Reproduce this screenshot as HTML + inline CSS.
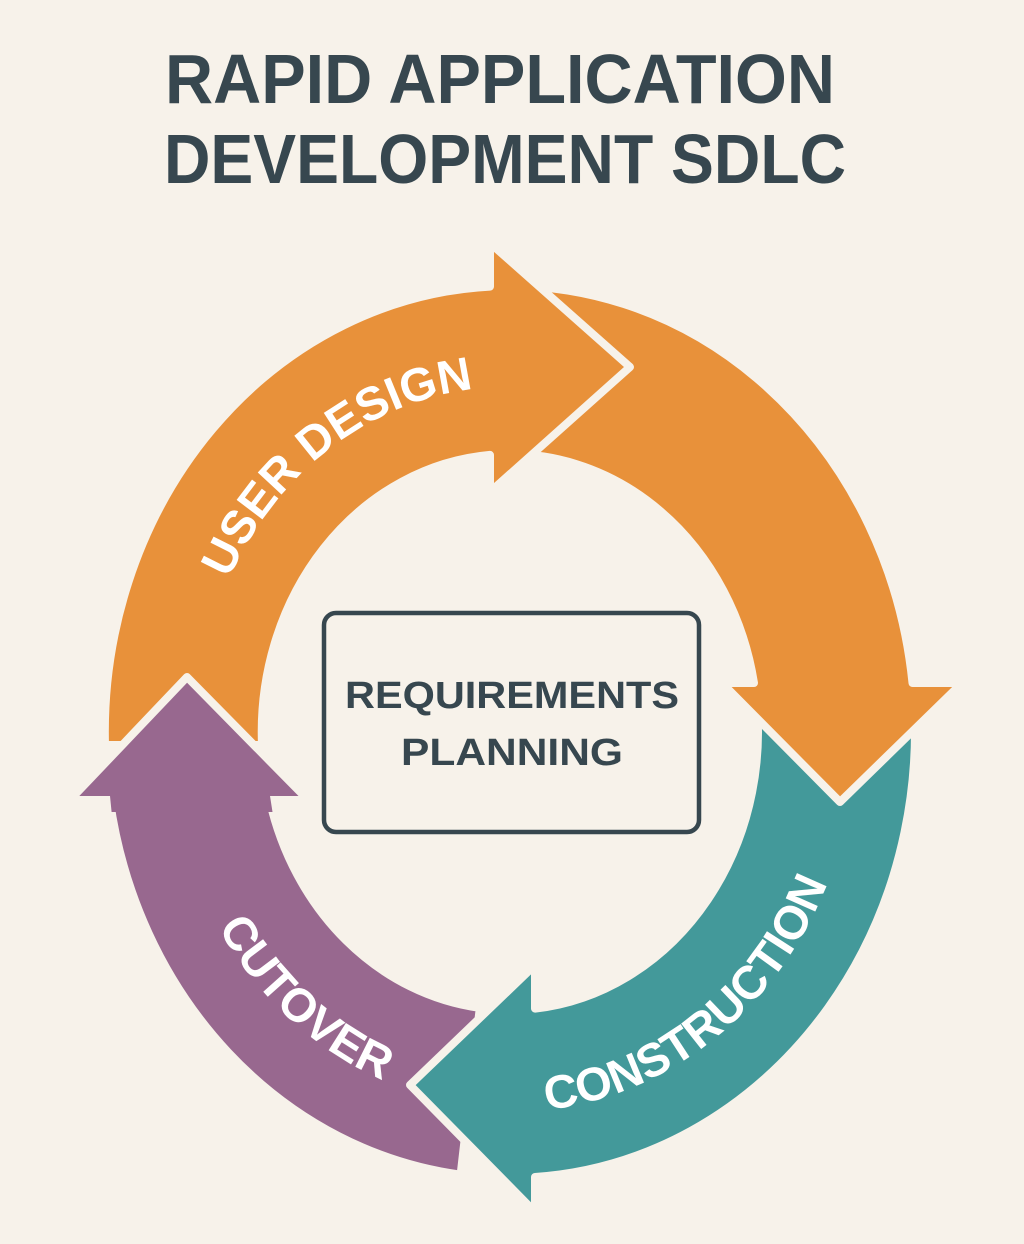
<!DOCTYPE html>
<html><head><meta charset="utf-8"><style>
html,body{margin:0;padding:0;background:#f7f2ea;}
svg{display:block;}
</style></head><body>
<svg width="1024" height="1244" viewBox="0 0 1024 1244" xmlns="http://www.w3.org/2000/svg">
<rect width="1024" height="1244" fill="#f7f2ea"/>
<g font-family="Liberation Sans, sans-serif" font-weight="bold" fill="#37474f" text-anchor="middle">
<text x="500" y="103" font-size="70" textLength="670" lengthAdjust="spacingAndGlyphs">RAPID APPLICATION</text>
<text x="505" y="183" font-size="70" textLength="682" lengthAdjust="spacingAndGlyphs">DEVELOPMENT SDLC</text>
</g>
<defs>
<path id="pUD" d="M 219.3 602.8 A 310 345 0 0 1 499.2 387.2"/>
<path id="pCU" d="M 200.0 890.5 A 342 375 0 0 0 421.5 1094.2"/>
<path id="pCO" d="M 497.9 1111.8 A 346 380 0 0 0 842.6 836.7"/>
</defs>
<g stroke="#f7f2ea" stroke-width="8" stroke-linejoin="round">
<path fill="#98688f" d="M460.6,1174.7 A405,446 0 0 1 109.8,800 L70,800 L187,677 L308,800 L269.6,800 A248,278 0 0 0 479.8,1007.9 Z"/>
<path fill="#43999a" d="M908.8,654.6 A405,446 0 0 1 535,1177 L535,1212 L410,1085 L535,965 L535,1008.6 A248,278 0 0 0 754.2,683.7 Z"/>
<path fill="#e8913a" d="M474.7,287.7 A405,446 0 0 1 912.5,683 L962,683 L840,802 L722,683 L754,683 A248,278 0 0 0 488.4,455 Z"/>
<path fill="#e8913a" d="M105,745 A405,446 0 0 1 490,286.6 L490,243 L630,367 L490,492 L490,454.9 A248,278 0 0 0 262,745 Z"/>
<path fill="#98688f" d="M70,800 L187,677 L308,800 Z"/>
</g>
<path fill="#98688f" d="M110,796 L270,796 L272.5,812 L111.6,812 Z"/>
<g font-family="Liberation Sans, sans-serif" font-weight="bold" fill="#ffffff" font-size="47">
<text><textPath href="#pUD" startOffset="50%" text-anchor="middle">USER DESIGN</textPath></text>
<text><textPath href="#pCU" startOffset="50%" text-anchor="middle">CUTOVER</textPath></text>
<text><textPath href="#pCO" startOffset="50%" text-anchor="middle">CONSTRUCTION</textPath></text>
</g>
<rect x="324" y="613" width="375" height="219" rx="12" fill="#f7f2ea" stroke="#37474f" stroke-width="4.5"/>
<g font-family="Liberation Sans, sans-serif" font-weight="bold" fill="#37474f" font-size="38" text-anchor="middle">
<text x="512" y="708" textLength="334" lengthAdjust="spacingAndGlyphs">REQUIREMENTS</text>
<text x="512" y="765" textLength="222" lengthAdjust="spacingAndGlyphs">PLANNING</text>
</g>
</svg>
</body></html>
